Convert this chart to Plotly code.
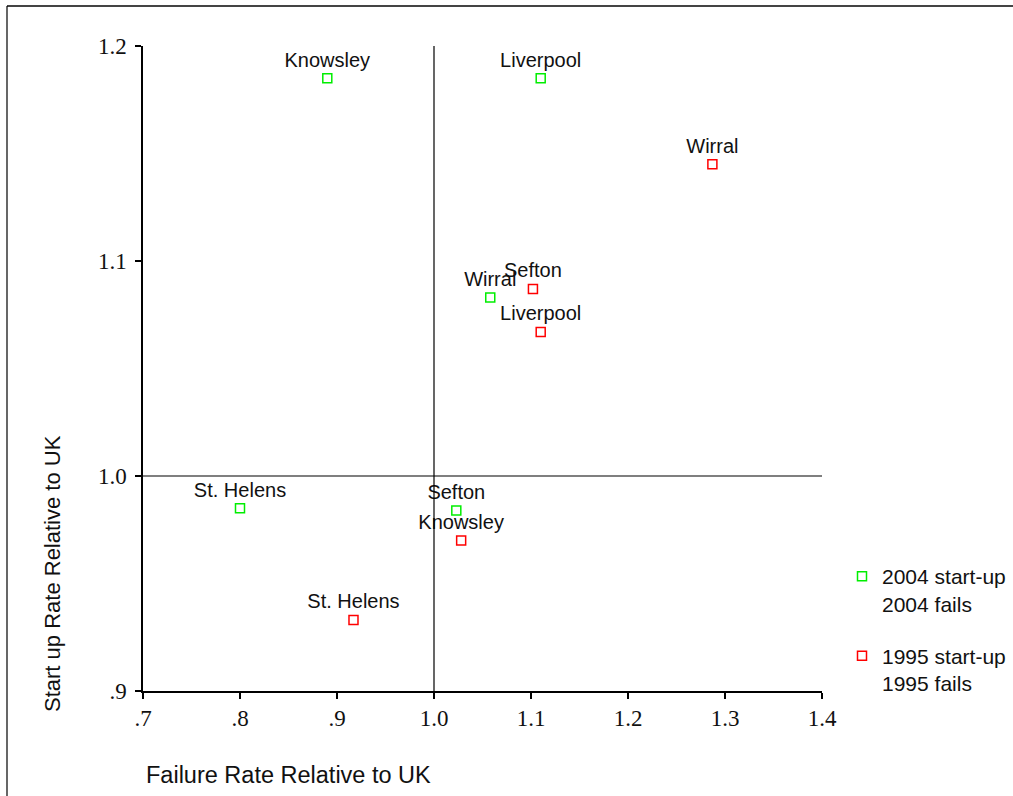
import plotly.graph_objects as go

# 2004 series
names_2004 = ["Knowsley", "Liverpool", "Wirral", "Sefton", "St. Helens"]
fail_2004 = [0.890, 1.110, 1.058, 1.023, 0.800]
start_2004 = [1.185, 1.185, 1.083, 0.984, 0.985]

# 1995 series
names_1995 = ["Wirral", "Sefton", "Liverpool", "Knowsley", "St. Helens"]
fail_1995 = [1.287, 1.102, 1.110, 1.028, 0.917]
start_1995 = [1.145, 1.087, 1.067, 0.970, 0.933]

x_ticks = [0.7, 0.8, 0.9, 1.0, 1.1, 1.2, 1.3, 1.4]
x_ticklabels = [".7", ".8", ".9", "1.0", "1.1", "1.2", "1.3", "1.4"]
y_ticks = [0.9, 1.0, 1.1, 1.2]
y_ticklabels = [".9", "1.0", "1.1", "1.2"]

legend_2004 = "2004 start-up<br>2004 fails"
legend_1995 = "1995 start-up<br>1995 fails"

SANS = "Liberation Sans, Arial, sans-serif"
SERIF = "Liberation Serif, Times New Roman, serif"

fig = go.Figure()
fig.add_trace(go.Scatter(
    x=fail_2004, y=start_2004, text=names_2004, mode="markers+text",
    textposition="top center", name=legend_2004, legendgroup="g2004",
    marker=dict(symbol="square-open", size=9, color="#00ee00", line=dict(width=1.5)),
    textfont=dict(family=SANS, size=20, color="#111111"),
))
fig.add_trace(go.Scatter(
    x=fail_1995, y=start_1995, text=names_1995, mode="markers+text",
    textposition="top center", name=legend_1995, legendgroup="g1995",
    marker=dict(symbol="square-open", size=9, color="#ff0000", line=dict(width=1.5)),
    textfont=dict(family=SANS, size=20, color="#111111"),
))

# reference lines at 1.0
fig.add_shape(type="line", x0=1.0, x1=1.0, y0=0.9, y1=1.2, xref="x", yref="y",
              line=dict(color="black", width=1.2))
fig.add_shape(type="line", x0=0.7, x1=1.4, y0=1.0, y1=1.0, xref="x", yref="y",
              line=dict(color="black", width=1.2))

# outer frame (top and left border of the original panel)
L, R, T, B = 143, 822, 46, 691
def px(xp): return (xp - L) / (R - L)
def py(yp): return (B - yp) / (B - T)
fig.add_shape(type="line", xref="paper", yref="paper", x0=px(7), x1=px(1013), y0=py(6), y1=py(6),
              line=dict(color="#444444", width=2))
fig.add_shape(type="line", xref="paper", yref="paper", x0=px(7), x1=px(7), y0=py(6), y1=py(796),
              line=dict(color="black", width=1.2))

fig.add_annotation(text="Failure Rate Relative to UK", xref="paper", yref="paper",
                   x=px(144), y=py(775), xanchor="left", yanchor="middle", showarrow=False,
                   font=dict(family=SANS, size=23.5, color="#111111"))
fig.add_annotation(text="Start up Rate Relative to UK", xref="paper", yref="paper",
                   x=px(52), y=py(574), xanchor="center", yanchor="middle", showarrow=False,
                   textangle=-90,
                   font=dict(family=SANS, size=22, color="#111111"))

axis_common = dict(showgrid=False, zeroline=False, showline=True, linecolor="black", linewidth=1.5,
                   ticks="outside", ticklen=6, tickwidth=2, tickcolor="black",
                   tickfont=dict(family=SERIF, size=23, color="#111111"))
fig.update_xaxes(range=[0.7, 1.4], tickvals=x_ticks, ticktext=x_ticklabels, **axis_common)
fig.update_yaxes(range=[0.9, 1.2], tickvals=y_ticks, ticktext=y_ticklabels,
                 ticklabelstandoff=4, **axis_common)

fig.update_layout(
    width=1013, height=796,
    margin=dict(l=L, r=1013 - R, t=T, b=796 - B, autoexpand=False),
    paper_bgcolor="white", plot_bgcolor="white",
    showlegend=True,
    legend=dict(x=px(842), y=py(556), xanchor="left", yanchor="top",
                font=dict(family=SANS, size=21, color="#111111"),
                valign="top", tracegroupgap=22, bgcolor="rgba(0,0,0,0)"),
)

fig.write_html("out.html", config={"displayModeBar": False},
               post_script="document.body.style.margin='0';document.body.style.overflow='hidden';")
